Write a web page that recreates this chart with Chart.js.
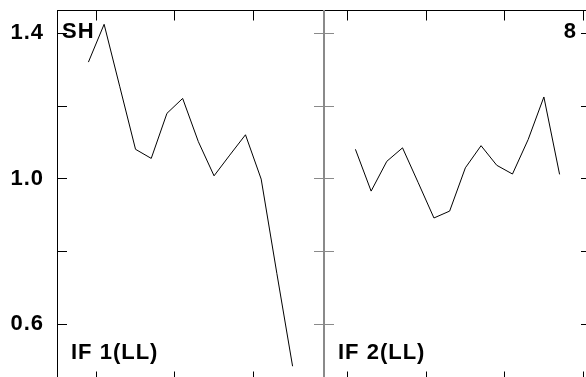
<!DOCTYPE html>
<html>
<head>
<meta charset="utf-8">
<script src="https://cdn.jsdelivr.net/npm/chart.js@4"></script>
<style>
  html, body { margin: 0; padding: 0; background: #fff; overflow: hidden; }
  .panel { position: absolute; top: 0; }
</style>
</head>
<body>
<canvas id="left" class="panel" width="330" height="392" style="left:0"></canvas>
<canvas id="right" class="panel" width="279" height="392" style="left:318px"></canvas>
<script>
'use strict';

// data
var steps = [2, 3, 4, 5, 6, 7, 8, 9, 10, 11, 12, 13, 14, 15];
var if1 = [1.321, 1.425, 1.253, 1.081, 1.056, 1.180, 1.221, 1.102, 1.008, 1.065, 1.121, 0.999, 0.739, 0.484];
var if2 = [1.081, 0.966, 1.048, 1.085, 0.989, 0.892, 0.911, 1.030, 1.091, 1.037, 1.013, 1.108, 1.225, 1.012];

var yTicks = [0.6, 0.8, 1.0, 1.2, 1.4];
var yLabels = ['0.6', '1.0', '1.4'];
var xTicksLeft = [2.5, 7.5, 12.5];
var xTicksRight = [1.5, 6.5, 11.5, 16.5];

var FONT = '"Liberation Sans", Arial, sans-serif';
Chart.defaults.font.family = FONT;
Chart.defaults.font.size = 22;
Chart.defaults.font.weight = 'bold';
Chart.defaults.color = '#000';

function setTicks(vals) {
    return function (scale) {
        scale.ticks = vals.map(function (v) { return { value: v }; });
    };
}

function fixSize(size) {
    return function (scale) {
        if (scale.isHorizontal()) scale.height = size;
        else scale.width = size;
        scale.paddingTop = 0;
        scale.paddingBottom = 0;
        scale.paddingLeft = 0;
        scale.paddingRight = 0;
    };
}

function axis(position, ticks, size, showLabels, divider) {
    var col = divider ? '#8a8a8a' : '#000';
    return {
        type: 'linear',
        position: position,
        afterBuildTicks: setTicks(ticks),
        afterFit: fixSize(size),
        grid: {
            drawOnChartArea: false,
            drawTicks: true,
            tickLength: -10,
            color: col,
            lineWidth: 1
        },
        border: { display: true, color: col, width: divider ? 2 : 1 },
        ticks: {
            padding: 23,
            autoSkip: false,
            maxRotation: 0,
            callback: function (v) {
                var s = Number(v).toFixed(1);
                return showLabels && yLabels.indexOf(s) >= 0 ? s : '';
            }
        }
    };
}

function panelText(items) {
    return {
        id: 'panelText',
        beforeDraw: function (chart) {
            chart.ctx.letterSpacing = '1px';
        },
        afterDraw: function (chart) {
            var a = chart.chartArea;
            var ctx = chart.ctx;
            ctx.save();
            ctx.fillStyle = '#000';
            ctx.font = 'bold 22px ' + FONT;
            ctx.letterSpacing = '1px';
            ctx.textBaseline = 'alphabetic';
            items.forEach(function (it) {
                ctx.textAlign = it.align;
                var x = it.align === 'right' ? a.right + it.dx : a.left + it.dx;
                var y = it.fromBottom ? a.bottom + it.dy : a.top + it.dy;
                ctx.fillText(it.text, x, y);
            });
            ctx.restore();
        }
    };
}

function makePanel(id, values, xTicks, leftWidth, showY, dividerSide, texts) {
    var scales = {
        x: Object.assign(axis('bottom', xTicks, 10.5, false, false), { min: 0, max: 17 }),
        x2: Object.assign(axis('top', xTicks, 10.5, false, false), { min: 0, max: 17 }),
        y: Object.assign(axis('left', yTicks, leftWidth, showY, dividerSide === 'left'), { min: 0.442, max: 1.463 }),
        y2: Object.assign(axis('right', yTicks, 6, false, dividerSide === 'right'), { min: 0.442, max: 1.463 })
    };
    return new Chart(document.getElementById(id), {
        type: 'line',
        data: {
            datasets: [{
                data: steps.map(function (s, i) { return { x: s, y: values[i] }; }),
                xAxisID: 'x',
                yAxisID: 'y',
                borderColor: '#000',
                borderWidth: 1,
                pointRadius: 0,
                tension: 0,
                fill: false
            }]
        },
        options: {
            responsive: false,
            animation: false,
            layout: { padding: 0 },
            plugins: { legend: { display: false }, tooltip: { enabled: false } },
            scales: scales
        },
        plugins: [panelText(texts)]
    });
}

makePanel('left', if1, xTicksLeft, 57, true, 'right', [
    { text: 'SH', align: 'left', dx: 5, dy: 27 },
    { text: 'IF 1(LL)', align: 'left', dx: 14, dy: -23, fromBottom: true }
]);

makePanel('right', if2, xTicksRight, 6, false, 'left', [
    { text: '8', align: 'right', dx: -14, dy: 27 },
    { text: 'IF 2(LL)', align: 'left', dx: 14, dy: -23, fromBottom: true }
]);
</script>
</body>
</html>
